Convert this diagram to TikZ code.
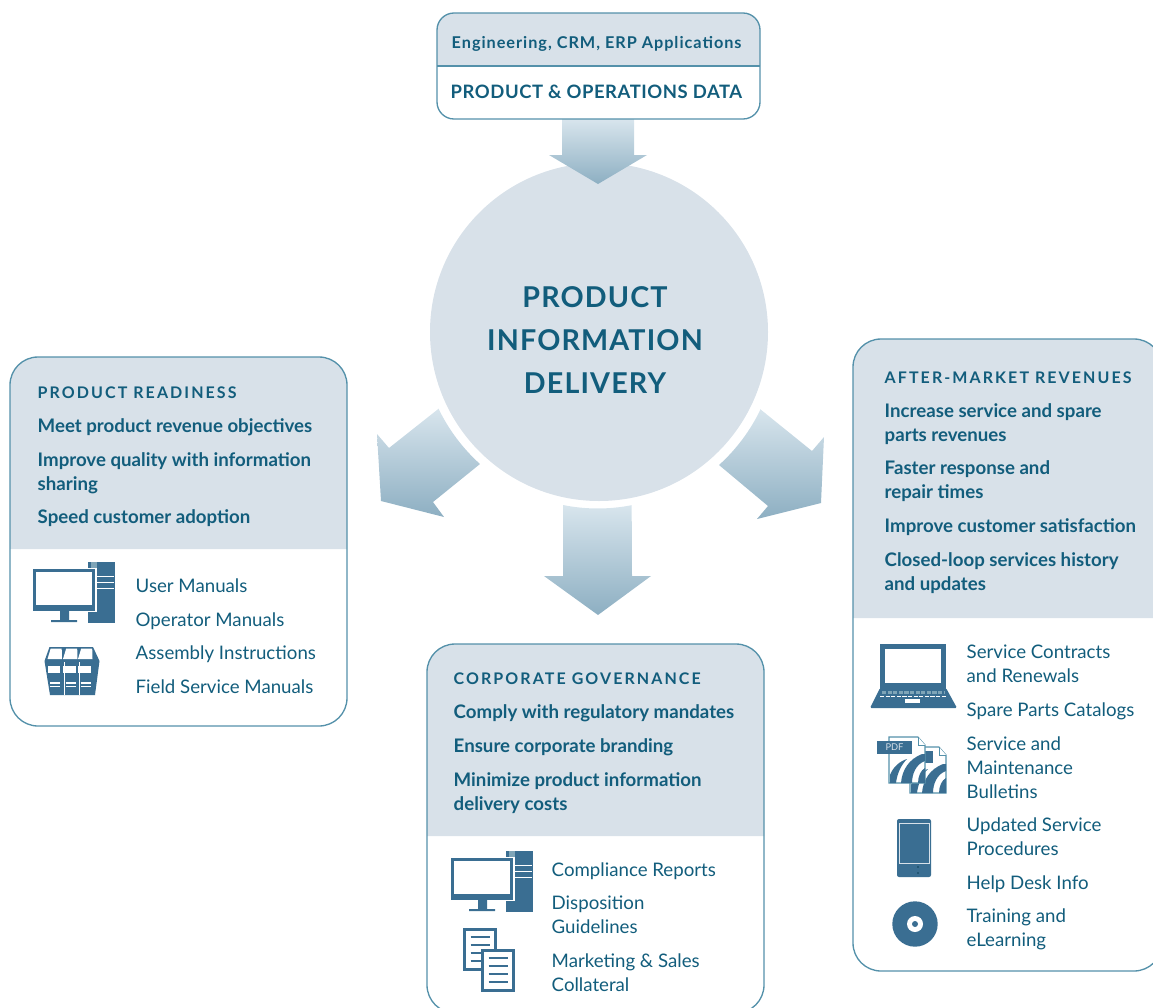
\documentclass[tikz,border=0pt]{standalone}
\usepackage{fontspec}
\setmainfont{Lato}
\newfontfamily\headfont[LetterSpace=13]{Lato}
\newfontfamily\titlefont[LetterSpace=4]{Lato}
\newfontfamily\appsfont[LetterSpace=6]{Lato}
\newfontfamily\datafont[LetterSpace=3]{Lato}
\definecolor{inktext}{RGB}{18,93,124}
\definecolor{iconblue}{RGB}{58,110,146}
\definecolor{iconpale}{RGB}{127,165,184}
\definecolor{boxline}{RGB}{84,145,170}
\definecolor{panelfill}{RGB}{216,225,233}
\definecolor{arrowtop}{RGB}{216,229,237}
\definecolor{arrowbottom}{RGB}{141,175,194}
\tikzset{every picture/.style={line width=0.75pt}}
\tikzset{
  bodyline/.style={anchor=base west,inner sep=0pt,xshift=-0.6pt,text=inktext,font=\fontsize{14pt}{18pt}\selectfont},
  leadline/.style={anchor=base west,inner sep=0pt,xshift=-0.6pt,text=inktext,font=\fontsize{14pt}{18pt}\selectfont\bfseries},
  headline/.style={anchor=base west,inner sep=0pt,xshift=-0.6pt,text=inktext,font=\fontsize{12pt}{18pt}\selectfont\headfont\bfseries},
  titleline/.style={anchor=base,inner sep=0pt,text=inktext,font=\fontsize{21.5pt}{32pt}\selectfont\titlefont\bfseries},
  panelframe/.style={draw=boxline,line width=1pt,rounded corners=21pt},
  flowarrow/.style={top color=arrowtop,bottom color=arrowbottom,draw=none},
  computer/.pic={
    \fill [iconblue] (55,0) rectangle (82,61);
    \fill [iconpale] (58,0) rectangle (64,10);
    \draw [white,line width=0.75pt] (62,14) -- (81,14) (62,20) -- (81,20) (62,26) -- (81,26);
    \fill [white] (-1,6) rectangle (64,50);
    \fill [iconblue] (0,7) rectangle (62,49);
    \fill [white] (3,10) rectangle (59,43);
    \fill [iconblue] (27,49) rectangle (36,59) (18,58) rectangle (44,60);
  },
  pdfpage/.pic={
    \draw [boxline,fill=white,line width=0.8pt] (0,0) -- (29,0) -- (36,8) -- (36,46) -- (0,46) -- cycle;
    \draw [boxline,fill=white,line width=0.6pt] (29,0) -- (29,8) -- (36,8);
    \fill [iconblue] (1,38) .. controls (4,30) and (11,24) .. (18,22) .. controls (12,28) and (8,37) .. (7,46) -- (1,46) -- cycle;
    \fill [iconblue] (12,46) .. controls (13,33) and (20,22) .. (33,17) -- (36,17) -- (36,24) .. controls (27,27) and (23,37) .. (23,46) -- cycle;
    \fill [iconblue] (29,46) .. controls (29,39) and (32,33) .. (36,31) -- (36,46) -- cycle;
  },
}
\begin{document}
\begin{tikzpicture}[x=0.75pt,y=0.75pt,yscale=-1,xscale=1]
\useasboundingbox (0,0) rectangle (1153,1007);
\clip (0,0) rectangle (1153,1007);

%Shape: Circle
\fill [panelfill] (599,332) circle [radius=169];

%Shape: Top arrow
\shade [flowarrow] (562,119) -- (634,119) -- (634,155) -- (647,155) -- (598,184) -- (549,155) -- (562,155) -- cycle;
%Shape: Left arrow
\shade [flowarrow] (437,410) -- (389,448) -- (377,434) -- (381,501) -- (444,517) -- (433,502) -- (480,464) arc [start angle=132,end angle=154.3,radius=179] -- cycle;
%Shape: Right arrow
\shade [flowarrow] (760,409) -- (812,451) -- (824,437) -- (821,503) -- (757,519) -- (768,506) -- (719,465) arc [start angle=47.9,end angle=25.6,radius=179] -- cycle;
%Shape: Bottom arrow
\shade [flowarrow] (563,505) arc [start angle=101.4,end angle=78.9,radius=176] -- (632,576) -- (651,576) -- (598,615) -- (544,576) -- (563,576) -- cycle;

%Shape: Source box
\fill [panelfill] (437,66) -- (437,30) arc [start angle=180,end angle=270,radius=17] -- (743,13) arc [start angle=270,end angle=360,radius=17] -- (760,66) -- cycle;
\draw [panelframe,rounded corners=12.75pt] (437,13) rectangle (760,119);
\draw [boxline,line width=1pt] (437,66) -- (760,66);

%Shape: Readiness panel
\fill [panelfill] (10,549) -- (10,385) arc [start angle=180,end angle=270,radius=28] -- (319,357) arc [start angle=270,end angle=360,radius=28] -- (347,549) -- cycle;
\draw [panelframe] (10,357) rectangle (347,726);
%Shape: Governance panel
\fill [panelfill] (427,836) -- (427,672) arc [start angle=180,end angle=270,radius=28] -- (736,644) arc [start angle=270,end angle=360,radius=28] -- (764,836) -- cycle;
\draw [panelframe] (427,644) rectangle (764,1013);
%Shape: Revenues panel
\fill [panelfill] (853,618) -- (853,367) arc [start angle=180,end angle=270,radius=28] -- (1134,339) arc [start angle=270,end angle=360,radius=28] -- (1162,618) -- cycle;
\draw [panelframe] (853,339) rectangle (1162,971);

% Text Node
\draw (452,48) node (srcapps) [headline,font=\fontsize{12.2pt}{18pt}\selectfont\appsfont\bfseries] {Engineering, CRM, ERP Applications};
\draw (451,98) node (srcdata) [headline,font=\fontsize{13.85pt}{18pt}\selectfont\datafont\bfseries] {PRODUCT \& OPERATIONS DATA};
% Text Node
\draw (595,307) node (title) [titleline] {PRODUCT};
\draw (595,350) node (titleb) [titleline] {INFORMATION};
\draw (595,393) node (titlec) [titleline] {DELIVERY};

% Text Node
\draw (38,398) node (readyhead) [headline] {PRODUCT READINESS};
\draw (38,432) node (readya) [leadline] {Meet product revenue objectives};
\draw (38,466) node (readyb) [leadline] {Improve quality with information};
\draw (38,490) node (readyc) [leadline] {sharing};
\draw (38,523) node (readyd) [leadline] {Speed customer adoption};
\draw (136,592) node (userman) [bodyline] {User Manuals};
\draw (136,626) node (operman) [bodyline] {Operator Manuals};
\draw (136,659) node (assembly) [bodyline] {Assembly Instructions};
\draw (136,693) node (fieldman) [bodyline] {Field Service Manuals};

% Text Node
\draw (454,684) node (govhead) [headline] {CORPORATE GOVERNANCE};
\draw (454,718) node (gova) [leadline] {Comply with regulatory mandates};
\draw (454,752) node (govb) [leadline] {Ensure corporate branding};
\draw (454,786) node (govc) [leadline] {Minimize product information};
\draw (454,810) node (govd) [leadline] {delivery costs};
\draw (552,876) node (compliance) [bodyline] {Compliance Reports};
\draw (552,909) node (dispo) [bodyline] {Disposition};
\draw (552,933) node (guide) [bodyline] {Guidelines};
\draw (552,967) node (market) [bodyline] {Marketing \& Sales};
\draw (552,991) node (collat) [bodyline] {Collateral};

% Text Node
\draw (885,383) node (revhead) [headline] {AFTER-MARKET REVENUES};
\draw (885,417) node (reva) [leadline] {Increase service and spare};
\draw (885,441) node (revb) [leadline] {parts revenues};
\draw (885,474) node (revc) [leadline] {Faster response and};
\draw (885,498) node (revd) [leadline] {repair times};
\draw (885,532) node (reve) [leadline] {Improve customer satisfaction};
\draw (885,566) node (revf) [leadline] {Closed-loop services history};
\draw (885,590) node (revg) [leadline] {and updates};
\draw (967,658) node (contracts) [bodyline] {Service Contracts};
\draw (967,682) node (renewals) [bodyline] {and Renewals};
\draw (967,716) node (spares) [bodyline] {Spare Parts Catalogs};
\draw (967,750) node (bulla) [bodyline] {Service and};
\draw (967,774) node (bullb) [bodyline] {Maintenance};
\draw (967,798) node (bullc) [bodyline] {Bulletins};
\draw (967,831) node (procsa) [bodyline] {Updated Service};
\draw (967,855) node (procsb) [bodyline] {Procedures};
\draw (967,889) node (helpdesk) [bodyline] {Help Desk Info};
\draw (967,922) node (traina) [bodyline] {Training and};
\draw (967,946) node (trainb) [bodyline] {eLearning};

%Shape: Computers
\pic [transform shape] at (33,562) {computer};
\pic [transform shape] at (451,851) {computer};

%Shape: Binders
\fill [iconblue] (49.5,647) -- (93,647) -- (99.5,661) -- (95,695) -- (50,695) -- (44.5,661) -- cycle;
\foreach \bx in {0,15.5,30.5}{
  \fill [white] (50.7+\bx,648.5) -- (61.7+\bx,648.5) -- (62+\bx,659) -- (47.5+\bx,659) -- cycle;
  \fill [white] (47.5+\bx,666) rectangle (60+\bx,673);
  \draw [white,line width=0.9pt] (50+\bx,683) -- (60+\bx,683) (50+\bx,686.5) -- (60+\bx,686.5);
}
\draw [white,line width=0.5pt] (64.5,662) -- (64.5,695) (79.5,662) -- (79.5,695);

%Shape: Laptop
\fill [iconblue] (880,644) rectangle (946,690);
\fill [white] (885,649) rectangle (941,683);
\fill [iconblue,rounded corners=1pt] (880,688) -- (946,688) -- (957,708) -- (870,708) -- cycle;
\draw [iconpale,line width=2.2pt,dash pattern=on 3.2pt off 1pt] (882,692.5) -- (944,692.5);
\draw [white,line width=1.2pt,dash pattern=on 3.2pt off 1pt] (880,696.5) -- (946,696.5);
\fill [white] (905,699) rectangle (920,702.5);

%Shape: PDF pages
\pic [transform shape] at (910,747) {pdfpage};
\fill [iconblue] (925,751) rectangle (933,763);
\pic [transform shape] at (889,737) {pdfpage};
\fill [iconblue] (877,741) rectangle (912,754);
\draw (894.5,747.5) node (pdftag) [inner sep=0pt,text=panelfill,font=\fontsize{7pt}{8pt}\selectfont] {PDF};

%Shape: Tablet
\fill [iconblue,rounded corners=1.5pt] (897,819) rectangle (931,877);
\draw [panelfill,line width=0.7pt] (899,823) rectangle (929,863);
\fill [inktext!70!black] (918,867) circle [radius=0.8] (918,873) circle [radius=0.8];

%Shape: Disc
\fill [iconblue] (915,924) circle [radius=22.7];
\fill [white] (915,924) circle [radius=8];
\fill [iconblue] (915,924) circle [radius=3];

%Shape: Documents
\foreach \dx/\dy in {463/928,481/949}{
  \draw [iconblue,fill=white,line width=2.5pt] (\dx+1.5,\dy+1.5) rectangle (\dx+32.5,\dy+41.5);
  \foreach \ly in {9,17,25,33}{
    \draw [iconblue,line width=2.2pt] (\dx+7.5,\dy+\ly) -- (\dx+26.5,\dy+\ly);
  }
}
\end{tikzpicture}
\end{document}
